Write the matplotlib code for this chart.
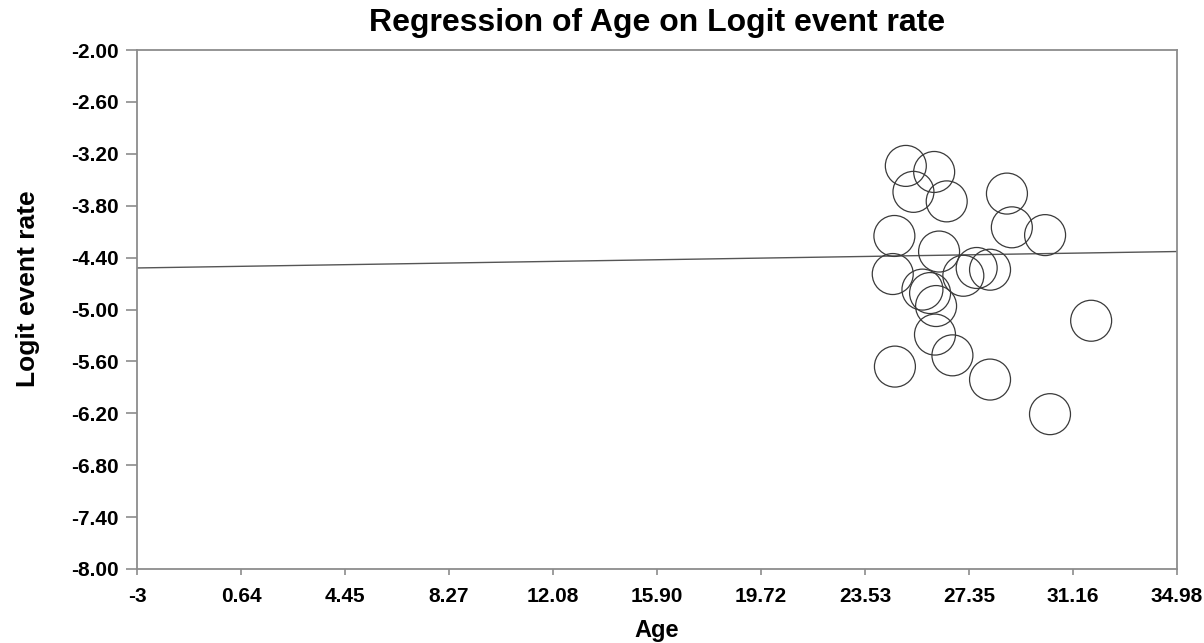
import matplotlib.pyplot as plt

# study-level points
age = [25.03, 26.07, 25.31, 26.53, 28.74, 24.61, 28.92, 30.14, 26.25, 24.55, 27.63,
       28.12, 27.14, 25.64, 25.92, 26.14, 26.10, 26.74, 24.63, 28.12, 31.83, 30.32]
logit_rate = [-3.34, -3.41, -3.64, -3.75, -3.66, -4.15, -4.05, -4.14, -4.33, -4.59, -4.52,
              -4.54, -4.61, -4.77, -4.81, -4.96, -5.29, -5.53, -5.66, -5.81, -5.13, -6.21]

# fitted regression line
intercept = -4.504
slope = 0.00498

x_ticks = [-3.18, 0.64, 4.45, 8.27, 12.08, 15.90, 19.72, 23.53, 27.35, 31.16, 34.98]
x_labels = ["-3", "0.64", "4.45", "8.27", "12.08", "15.90", "19.72", "23.53", "27.35", "31.16", "34.98"]
y_ticks = [-2.00, -2.60, -3.20, -3.80, -4.40, -5.00, -5.60, -6.20, -6.80, -7.40, -8.00]

plt.rcParams['font.family'] = ['Liberation Sans', 'DejaVu Sans']
plt.rcParams['font.weight'] = 'bold'

fig = plt.figure(figsize=(12.04, 6.43), dpi=100)
ax = fig.add_axes([137/1204, 1 - 569/643, 1040/1204, 519/643])

xmin, xmax = x_ticks[0], x_ticks[-1]
ax.plot([xmin, xmax], [intercept + slope*xmin, intercept + slope*xmax],
        color='#555555', linewidth=1.0, zorder=2)
ax.scatter(age, logit_rate, s=870, facecolors='none', edgecolors='#3a3a3a',
           linewidths=0.9, zorder=3)

ax.set_xlim(xmin, xmax)
ax.set_ylim(-8.0, -2.0)
ax.set_xticks(x_ticks)
ax.set_xticklabels(x_labels)
ax.set_yticks(y_ticks)
ax.set_yticklabels([f"{v:.2f}" for v in y_ticks])

for s in ax.spines.values():
    s.set_color('#8c8c8c')
    s.set_linewidth(1.3)
ax.tick_params(axis='x', length=4, width=1.2, color='#8c8c8c', pad=9, labelsize=15)
ax.tick_params(axis='y', length=8, width=1.2, color='#8c8c8c', pad=5, labelsize=15)

ax.set_title("Regression of Age on Logit event rate", fontsize=23, fontweight='bold', pad=14)
ax.set_xlabel("Age", fontsize=17, fontweight='bold', labelpad=9)
ax.set_ylabel("Logit event rate", fontsize=19, fontweight='bold')
ax.yaxis.set_label_coords(-0.093, 0.54)

fig.savefig("out.png", dpi=100)
